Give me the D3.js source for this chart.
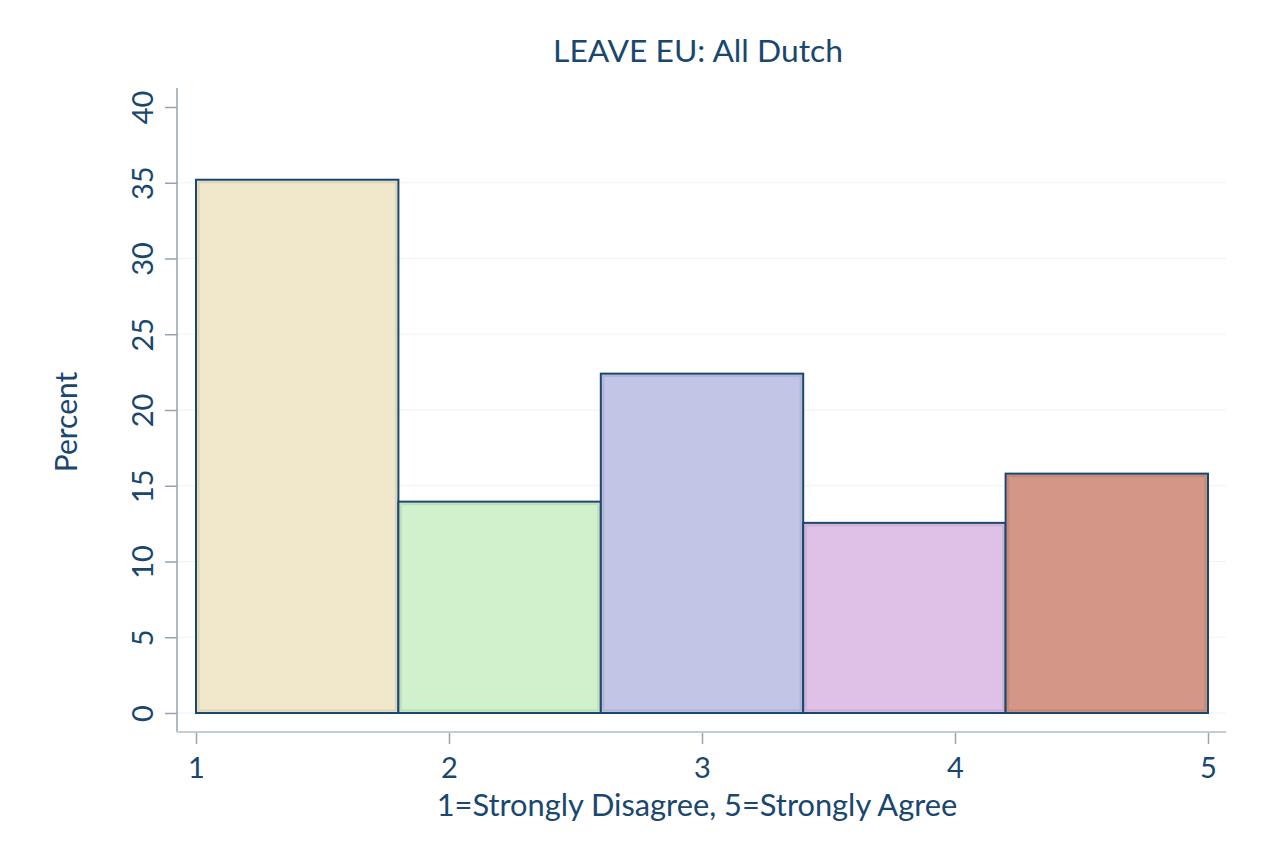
<!DOCTYPE html>
<html>
<head>
<meta charset="utf-8">
<script src="https://cdn.jsdelivr.net/npm/d3@7"></script>
<style>
  body { margin: 0; background: #fff; }
  svg text { font-family: Lato, "Open Sans", sans-serif; fill: #1a476f; }
</style>
</head>
<body>
<svg id="chart" width="1280" height="842"></svg>
<script>
// histogram bins (left edge, right edge) and percent heights
const binStarts = [1, 1.8, 2.6, 3.4, 4.2];
const binWidth = 0.8;
const percents = [35.2, 13.95, 22.4, 12.55, 15.8];
const barColors = ["#f1e8cb", "#cff2cd", "#c2c5e6", "#dfc0e6", "#d49686"];
const yTicks = [0, 5, 10, 15, 20, 25, 30, 35, 40];
const xTicks = [1, 2, 3, 4, 5];

const svg = d3.select("#chart");
const navy = "#1a476f";

const x = d3.scaleLinear().domain([1, 5]).range([196, 1208]);
const y = d3.scaleLinear().domain([0, 40]).range([713, 107]);

const plotLeft = 177, plotRight = 1226, plotTop = 88, plotBottom = 732;

// gridlines (none at the top tick)
svg.append("g")
    .selectAll("line")
    .data(yTicks.filter(d => d < 40))
    .join("line")
        .attr("x1", plotLeft).attr("x2", plotRight)
        .attr("y1", d => y(d)).attr("y2", d => y(d))
        .attr("stroke", "#eef3f5")
        .attr("stroke-width", 1.2);

// bars
const bars = svg.append("g")
    .selectAll("g")
    .data(percents.map((p, i) => ({ x0: binStarts[i], x1: binStarts[i] + binWidth, p, c: barColors[i] })))
    .join("g");

bars.append("rect")
    .attr("x", d => x(d.x0))
    .attr("y", d => y(d.p))
    .attr("width", d => x(d.x1) - x(d.x0))
    .attr("height", d => y(0) - y(d.p))
    .attr("fill", d => d.c);

// soft inner shadow along the edges
bars.append("rect")
    .attr("x", d => x(d.x0) + 2.5)
    .attr("y", d => y(d.p) + 2.5)
    .attr("width", d => x(d.x1) - x(d.x0) - 5)
    .attr("height", d => y(0) - y(d.p) - 5)
    .attr("fill", "none")
    .attr("stroke", d => d3.color(d.c).darker(0.5))
    .attr("stroke-opacity", 0.5)
    .attr("stroke-width", 2);

bars.append("rect")
    .attr("x", d => x(d.x0))
    .attr("y", d => y(d.p))
    .attr("width", d => x(d.x1) - x(d.x0))
    .attr("height", d => y(0) - y(d.p))
    .attr("fill", "none")
    .attr("stroke", navy)
    .attr("stroke-width", 2);

// y axis
const yAxis = svg.append("g")
    .attr("transform", `translate(${plotLeft},0)`)
    .call(d3.axisLeft(y).tickValues(yTicks).tickSize(12).tickPadding(0));
yAxis.select(".domain").remove();
yAxis.append("line")
    .attr("y1", plotTop).attr("y2", plotBottom)
    .attr("stroke", "#95a3b5").attr("stroke-width", 1.5);
yAxis.selectAll(".tick line").attr("stroke", "#95a3b5").attr("stroke-width", 1.5);
yAxis.selectAll(".tick text")
    .attr("x", null).attr("dy", null)
    .attr("text-anchor", "middle")
    .attr("transform", "translate(-24,0) rotate(-90)")
    .style("font-size", "29px")
    .attr("fill", navy);

// x axis
const xAxis = svg.append("g")
    .attr("transform", `translate(0,${plotBottom})`)
    .call(d3.axisBottom(x).tickValues(xTicks).tickFormat(d3.format("d")).tickSize(12).tickPadding(13));
xAxis.select(".domain").remove();
xAxis.append("line")
    .attr("x1", plotLeft).attr("x2", plotRight)
    .attr("stroke", "#c3ccd7").attr("stroke-width", 2);
xAxis.selectAll(".tick line").attr("stroke", "#95a3b5").attr("stroke-width", 1.5);
xAxis.selectAll(".tick text")
    .attr("dy", "0.71em")
    .style("font-size", "29px")
    .attr("fill", navy);

// titles
svg.append("text")
    .attr("x", 698).attr("y", 62)
    .attr("text-anchor", "middle")
    .style("font-size", "31.8px")
    .text("LEAVE EU: All Dutch");

svg.append("text")
    .attr("x", 697).attr("y", 816)
    .attr("text-anchor", "middle")
    .style("font-size", "30.8px")
    .text("1=Strongly Disagree, 5=Strongly Agree");

svg.append("text")
    .attr("transform", "translate(77,422) rotate(-90)")
    .attr("text-anchor", "middle")
    .style("font-size", "30px")
    .text("Percent");
</script>
</body>
</html>
